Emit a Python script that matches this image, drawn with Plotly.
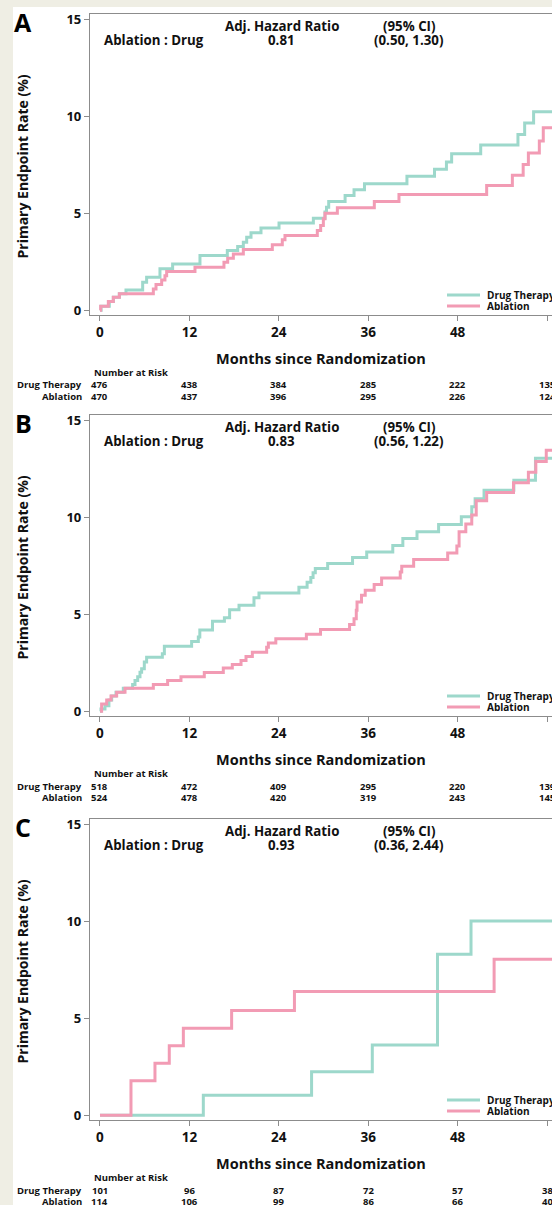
import plotly.graph_objects as go

W, H = 552, 1205

# ---------------- data ----------------
month_ticks = [0, 12, 24, 36, 48, 60]
y_ticks = [0, 5, 10, 15]

# Panel A
a_drug_t = [0, 0.15, 1.25, 1.79, 2.6, 3.49, 5.73, 6.26, 8.05, 9.75, 13.42, 17.09, 18.48, 19.24, 19.69,
            20.27, 21.61, 24.03, 28.64, 30.2, 30.4, 30.7, 32.9, 34.1, 35.5, 41.2, 44.9, 46.5, 47.2,
            51.1, 56.1, 57.0, 58.2, 61.5]
a_drug_v = [0.0, 0.21, 0.45, 0.67, 0.85, 1.05, 1.45, 1.71, 2.14, 2.39, 2.83, 3.08, 3.29, 3.51, 3.77,
            4.0, 4.24, 4.5, 4.75, 5.07, 5.32, 5.61, 5.92, 6.22, 6.53, 6.91, 7.27, 7.65, 8.08,
            8.52, 9.07, 9.66, 10.24, 10.24]
a_abl_t = [0, 0.09, 1.12, 1.79, 2.6, 7.16, 7.52, 8.28, 8.72, 8.95, 12.75, 16.64, 17.14, 17.9, 19.24,
           23.13, 24.47, 24.83, 29.17, 29.62, 29.98, 30.2, 31.86, 36.82, 40.13, 51.9, 55.35, 56.8,
           57.5, 58.97, 59.5, 61.5]
a_abl_v = [0.0, 0.21, 0.45, 0.67, 0.85, 1.10, 1.33, 1.57, 1.79, 2.0, 2.22, 2.48, 2.69, 2.91, 3.14,
           3.38, 3.64, 3.86, 4.12, 4.37, 4.72, 5.01, 5.29, 5.61, 5.97, 6.44, 6.96, 7.52,
           8.11, 8.73, 9.42, 9.42]

# Panel B
b_drug_t = [0, 0.13, 0.67, 1.2, 1.57, 2.15, 3.13, 4.38, 4.7, 5.06, 5.37, 5.59, 5.95, 6.26, 8.37, 8.64,
            12.3, 13.2, 13.4, 15.1, 16.7, 17.4, 18.66, 20.67, 21.34, 26.7, 27.8, 28.3, 28.6, 28.9,
            30.56, 33.9, 35.8, 39.3, 40.65, 42.55, 45.45, 48.5, 49.9, 50.35, 51.55, 55.55, 58.45, 61.5]
b_drug_v = [0.0, 0.12, 0.29, 0.59, 0.79, 0.98, 1.19, 1.38, 1.59, 1.79, 2.02, 2.19, 2.54, 2.79, 2.97, 3.35,
            3.6, 3.83, 4.2, 4.64, 4.83, 5.24, 5.47, 5.86, 6.1, 6.4, 6.65, 6.9, 7.14, 7.36,
            7.62, 7.93, 8.22, 8.55, 8.91, 9.26, 9.64, 10.03, 10.55, 10.96, 11.4, 11.92, 13.05, 13.05]
b_abl_t = [0, 0.22, 0.9, 1.48, 2.24, 3.36, 7.16, 9.08, 10.87, 14.0, 16.55, 17.76, 18.93, 19.6, 20.45,
           22.37, 22.6, 23.6, 27.7, 29.6, 33.5, 34.1, 34.4, 34.5, 35.1, 35.6, 36.8, 37.8, 40.3, 40.5,
           42.1, 46.67, 47.9, 48.2, 49.1, 49.9, 50.5, 51.9, 55.5, 57.5, 58.5, 59.9, 61.5]
b_abl_v = [0.0, 0.38, 0.59, 0.79, 0.98, 1.19, 1.38, 1.59, 1.79, 2.0, 2.23, 2.42, 2.62, 2.83, 3.05,
           3.31, 3.52, 3.74, 3.98, 4.22, 4.48, 4.78, 5.21, 5.64, 5.98, 6.24, 6.54, 6.88, 7.19, 7.48,
           7.83, 8.17, 8.52, 9.26, 9.66, 10.12, 10.86, 11.28, 11.79, 12.33, 12.88, 13.46, 13.46]

# Panel C
c_drug_t = [0, 13.87, 28.4, 36.55, 45.3, 49.8, 61.5]
c_drug_v = [0.0, 1.04, 2.25, 3.63, 8.31, 10.02, 10.02]
c_abl_t = [0, 4.16, 7.38, 9.3, 11.19, 17.67, 26.1, 52.9, 61.5]
c_abl_v = [0.0, 1.78, 2.69, 3.59, 4.49, 5.41, 6.39, 8.05, 8.05]

# Number at risk
a_risk_drug = [476, 438, 384, 285, 222, 135]
a_risk_abl = [470, 437, 396, 295, 226, 124]
b_risk_drug = [518, 472, 409, 295, 220, 139]
b_risk_abl = [524, 478, 420, 319, 243, 145]
c_risk_drug = [101, 96, 87, 72, 57, 38]
c_risk_abl = [114, 106, 99, 86, 66, 40]

# Hazard ratios
panel_letters = ["A", "B", "C"]
hr_values = ["0.81", "0.83", "0.93"]
hr_ci = ["(0.50, 1.30)", "(0.56, 1.22)", "(0.36, 2.44)"]
group_names = ["Drug Therapy", "Ablation"]

# ---------------- style ----------------
TEAL = "#9dd8cb"
PINK = "#f29bb4"
GRID = "#8c8c8c"
BEIGE = "#efeee4"
FONT = "Open Sans"
TXT = "#111111"

panel_tops = [14, 415, 819]
panel_h = 301
X_RANGE = [-1.34, 60.67]
Y_RANGE = [-0.24, 15.28]


def py(p):
    return 1 - p / H


def px(p):
    return p / W


fig = go.Figure()

panels = [
    (a_drug_t, a_drug_v, a_abl_t, a_abl_v, a_risk_drug, a_risk_abl),
    (b_drug_t, b_drug_v, b_abl_t, b_abl_v, b_risk_drug, b_risk_abl),
    (c_drug_t, c_drug_v, c_abl_t, c_abl_v, c_risk_drug, c_risk_abl),
]

annotations = []
shapes = [dict(type="rect", xref="paper", yref="paper", x0=px(13), x1=1.02, y0=-0.01, y1=py(7),
               fillcolor="white", line=dict(width=0), layer="below")]

for i, (dt, dv, at, av, rd, ra) in enumerate(panels):
    n = "" if i == 0 else str(i + 1)
    xa, ya = "x" + n, "y" + n
    top = panel_tops[i]
    bot = top + panel_h
    fig.add_trace(go.Scatter(x=dt, y=dv, mode="lines", line=dict(color=TEAL, width=3, shape="hv"),
                             xaxis=xa, yaxis=ya, showlegend=False, name=group_names[0]))
    fig.add_trace(go.Scatter(x=at, y=av, mode="lines", line=dict(color=PINK, width=3, shape="hv"),
                             xaxis=xa, yaxis=ya, showlegend=False, name=group_names[1]))

    axis_common = dict(showgrid=False, zeroline=False, showline=True, linecolor=GRID, linewidth=1.3,
                       ticks="outside", ticklen=5, tickcolor=GRID, tickwidth=1.3,
                       tickfont=dict(family=FONT, size=13.5, color=TXT, weight="bold"),
                       automargin=False)
    fig.layout["xaxis" + n] = dict(axis_common, range=X_RANGE, domain=[px(90), 1.0], anchor=ya,
                                   tickvals=month_ticks, mirror=True)
    fig.layout["yaxis" + n] = dict(axis_common, range=Y_RANGE, domain=[py(bot), py(top)], anchor=xa,
                                   tickvals=y_ticks, mirror=False,
                                   tickfont=dict(family=FONT, size=13, color=TXT, weight="bold"))

    # panel letter
    annotations.append(dict(text="<b>%s</b>" % panel_letters[i], x=px(23), y=py(top + 8), xref="paper",
                            yref="paper", showarrow=False, font=dict(family=FONT, size=25, color="black"),
                            xanchor="center", yanchor="middle"))
    # y title
    annotations.append(dict(text="<b>Primary Endpoint Rate (%)</b>", x=px(22), y=py(top + panel_h / 2 + 2),
                            xref="paper", yref="paper", showarrow=False, textangle=-90,
                            font=dict(family=FONT, size=14, color=TXT), xanchor="center", yanchor="middle"))
    # x title
    annotations.append(dict(text="<b>Months since Randomization</b>", x=px(321), y=py(bot + 43.5),
                            xref="paper", yref="paper", showarrow=False,
                            font=dict(family=FONT, size=14.5, color=TXT), xanchor="center", yanchor="middle"))
    # hazard ratio block
    hr_font = dict(family=FONT, size=13.3, color=TXT)
    for txt, xc, yy, anc in [("Adj. Hazard Ratio", 282, top + 11.5, "center"),
                             ("(95% CI)", 409.5, top + 11.5, "center"),
                             ("Ablation : Drug", 101.5, top + 26, "left"),
                             (hr_values[i], 281, top + 26, "center"),
                             (hr_ci[i], 408.7, top + 26, "center")]:
        annotations.append(dict(text="<b>%s</b>" % txt, x=px(xc), y=py(yy), xref="paper", yref="paper",
                                showarrow=False, font=hr_font, xanchor=anc, yanchor="middle"))
    # legend (manual)
    for k, (col, name) in enumerate([(TEAL, group_names[0]), (PINK, group_names[1])]):
        yy = bot - 20 + 11 * k
        shapes.append(dict(type="line", xref="paper", yref="paper", x0=px(447), x1=px(480),
                           y0=py(yy), y1=py(yy), line=dict(color=col, width=3)))
        annotations.append(dict(text="<b>%s</b>" % name, x=px(485), y=py(yy), xref="paper", yref="paper",
                                showarrow=False, font=dict(family=FONT, size=10, color=TXT),
                                xanchor="left", yanchor="middle"))
    # number at risk
    rf = dict(family=FONT, size=9.5, color=TXT)
    annotations.append(dict(text="<b>Number at Risk</b>", x=px(92), y=py(bot + 57), xref="paper",
                            yref="paper", showarrow=False, font=rf, xanchor="left", yanchor="middle"))
    for k, (name, vals) in enumerate([(group_names[0], rd), (group_names[1], ra)]):
        yy = bot + 70 + 11.5 * k
        annotations.append(dict(text="<b>%s</b>" % name, x=px(83.5), y=py(yy), xref="paper", yref="paper",
                                showarrow=False, font=rf, xanchor="right", yanchor="middle"))
        for m, v in zip(month_ticks, vals):
            annotations.append(dict(text="<b>%d</b>" % v, x=m, y=py(yy), xref="x", yref="paper",
                                    showarrow=False, font=rf, xanchor="center", yanchor="middle"))

fig.update_layout(width=W, height=H, margin=dict(l=0, r=0, t=0, b=0), paper_bgcolor=BEIGE,
                  plot_bgcolor="white", annotations=annotations, shapes=shapes, showlegend=False)

fig.write_html("out.html", config={"displayModeBar": False},
               post_script="document.body.style.margin='0';document.body.style.overflow='hidden';"
                           "document.documentElement.style.overflow='hidden';")
